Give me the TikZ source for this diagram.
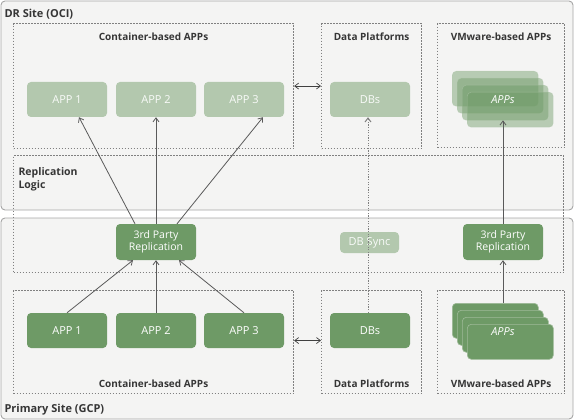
\documentclass[tikz,border=0pt]{standalone}
\usepackage{fontspec}
\setmainfont{Open Sans}
\usetikzlibrary{positioning, arrows.meta}
\definecolor{sitefill}{HTML}{F4F4F3}
\definecolor{siteline}{HTML}{A6A6A6}
\definecolor{zoneline}{HTML}{808080}
\definecolor{appdark}{HTML}{6E9A66}
\definecolor{applight}{HTML}{B3C8AE}
\definecolor{labeltext}{HTML}{363636}
\definecolor{flowline}{HTML}{5A5A5A}

\begin{document}
\begin{tikzpicture}[x=1pt, y=-1pt,
    site/.style={draw=siteline, fill=sitefill, rounded corners=4pt, line width=0.9pt},
    zone/.style={draw=zoneline, dash pattern=on 1.4pt off 1.6pt, line width=1.1pt,
                 anchor=north west, inner sep=0pt},
    title/.style={font=\fontsize{10}{12}\selectfont\bfseries, text=labeltext},
    app/.style={rectangle, rounded corners=4pt, minimum width=80pt, minimum height=35pt,
                font=\fontsize{11}{12}\selectfont, text=white, inner sep=2pt},
    appon/.style={app, fill=appdark},
    appoff/.style={app, fill=applight, text=white!92!applight},
    stackbox/.style={rectangle, rounded corners=4pt, minimum width=86pt, minimum height=35pt,
                     anchor=north west, inner sep=0pt},
    flow/.style={draw=flowline, line width=0.8pt, -{Straight Barb[length=4pt, width=6pt]}},
    link/.style={draw=black!75, line width=0.7pt, {Straight Barb[length=4pt, width=6pt]}-{Straight Barb[length=4pt, width=6pt]}},
    sync/.style={draw=zoneline, dash pattern=on 1.2pt off 1.4pt, line width=1pt,
                 -{Straight Barb[length=4pt, width=6pt]}}
  ]
    \useasboundingbox (0,0) rectangle (574,420);

    % sites
    \draw[site] (1,1) rectangle (573,210);
    \draw[site] (1,218) rectangle (573,419);
    \node[title, anchor=west, font=\fontsize{11}{13}\selectfont\bfseries] (drsite) at (1,14) {DR Site (OCI)};
    \node[title, anchor=west, font=\fontsize{11}{13}\selectfont\bfseries] (prsite) at (1,410) {Primary Site (GCP)};

    % zones
    \node[zone, minimum width=280pt, minimum height=125pt] (tcont) at (13,23) {};
    \node[zone, minimum width=100pt, minimum height=125pt] (tdata) at (321,23) {};
    \node[zone, minimum width=127pt, minimum height=124pt] (tvm) at (437,23) {};
    \node[zone, minimum width=550pt, minimum height=117pt] (repl) at (13,155) {};
    \node[zone, minimum width=280pt, minimum height=103pt] (bcont) at (13,290) {};
    \node[zone, minimum width=100pt, minimum height=103pt] (bdata) at (321,290) {};
    \node[zone, minimum width=127pt, minimum height=103pt] (bvm) at (437,290) {};

    \node[title, below=6pt of tcont.north] {Container-based APPs};
    \node[title, below=6pt of tdata.north] {Data Platforms};
    \node[title, below=6pt of tvm.north] {VMware-based APPs};
    \node[title, above=3pt of bcont.south] {Container-based APPs};
    \node[title, above=3pt of bdata.south] {Data Platforms};
    \node[title, above=3pt of bvm.south] {VMware-based APPs};
    \node[title, anchor=north west, align=left, font=\fontsize{10.5}{13}\selectfont\bfseries]
      (repltitle) at (15,164) {Replication\\Logic};

    % DR apps
    \node[appoff] (tapp1) at (67,99.5) {APP 1};
    \node[appoff] (tapp2) at (156,99.5) {APP 2};
    \node[appoff] (tapp3) at (244,99.5) {APP 3};
    \node[appoff] (tdb) at (370,99.5) {DBs};
    \foreach \i in {1,...,4}
      \node[stackbox, fill=appdark, fill opacity=0.45, draw=applight, draw opacity=0.6]
        (tstack\i) at (447+5*\i,64+7*\i) {};
    \node[font=\fontsize{11}{12}\selectfont\itshape, text=white] (tapps) at (503,100) {APPs};

    % replication
    \node[appon, minimum height=36pt, align=center, font=\fontsize{10.5}{12.5}\selectfont] (lrepl) at (156,242) {3rd Party\\Replication};
    \node[appon, minimum height=36pt, align=center, font=\fontsize{10.5}{12.5}\selectfont] (rrepl) at (503,242) {3rd Party\\Replication};
    \node[appoff, minimum width=59pt, minimum height=21pt] (dbsync) at (369.5,242.5) {DB Sync};

    % primary apps
    \node[appon] (bapp1) at (67,330.5) {APP 1};
    \node[appon] (bapp2) at (156,330.5) {APP 2};
    \node[appon] (bapp3) at (244,330.5) {APP 3};
    \node[appon] (bdb) at (370,330.5) {DBs};
    \foreach \i in {1,...,4}
      \node[stackbox, fill=appdark, draw=applight!70!appdark, line width=0.6pt]
        (bstack\i) at (447+5*\i,296+7*\i) {};
    \node[font=\fontsize{11}{12}\selectfont\itshape, text=white] (bapps) at (503,332) {APPs};

    % connectors
    \draw[flow] ([xshift=-21pt]lrepl.north) -- ([xshift=12pt]tapp1.south);
    \draw[flow] (lrepl.north) -- (tapp2.south);
    \draw[flow] ([xshift=21pt]lrepl.north) -- ([xshift=19pt]tapp3.south);
    \draw[flow] (bapp1.north) -- ([xshift=-23pt]lrepl.south);
    \draw[flow] (bapp2.north) -- (lrepl.south);
    \draw[flow] (bapp3.north) -- ([xshift=23pt]lrepl.south);
    \draw[flow] (rrepl.north) -- (rrepl.north |- tstack3.south);
    \draw[flow] (bstack1.north -| rrepl.south) -- (rrepl.south);
    \draw[sync] ([xshift=-2pt]bdb.north) -- ([xshift=-2pt]tdb.south);
    \draw[link] (tcont.east) -- (tdata.west);
    \draw[link] ([yshift=1.5pt]bcont.east) -- ([yshift=1.5pt]bdata.west);
  \end{tikzpicture}
\end{document}
